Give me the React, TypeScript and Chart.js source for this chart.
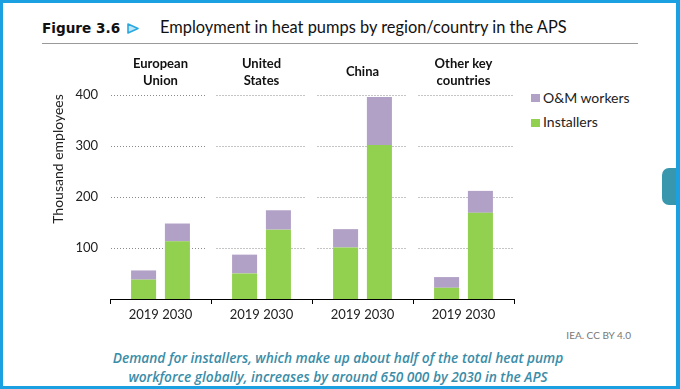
import React, { useEffect, useRef } from "react";
import { Chart, registerables } from "chart.js";

Chart.register(...registerables);

const groupLabels: string[][] = [["European", "Union"], ["United", "States"], ["China"], ["Other key", "countries"]];
const yearLabels: string[] = ["2019 2030", "2019 2030", "2019 2030", "2019 2030"];
const installers2019: number[] = [38, 50, 101, 22];
const om2019: number[] = [18, 37, 36, 21];
const installers2030: number[] = [113, 136, 302, 169];
const om2030: number[] = [35, 38, 94, 43];
const yTicks: number[] = [0, 100, 200, 300, 400];

const GREEN = "#92D050";
const PURPLE = "#B2A1C7";
const FONT = "Lato, 'Noto Sans', sans-serif";

const dottedGrid = {
  id: "dottedGrid",
  beforeDatasetsDraw(chart: any) {
    const { ctx, scales } = chart;
    const x = scales.x;
    const y = scales.y;
    const n = yearLabels.length;
    const w = (x.right - x.left) / n;
    ctx.save();
    ctx.strokeStyle = "#8a8a8a";
    ctx.lineWidth = 1;
    ctx.setLineDash([1, 2]);
    for (const v of yTicks) {
      if (v === 0) continue;
      const py = Math.round(y.getPixelForValue(v)) + 0.5;
      for (let i = 0; i < n; i++) {
        const c = x.getPixelForValue(i);
        const l = c - w / 2 + (i === 0 ? 1 : 5.5);
        const r = c + w / 2 - (i === n - 1 ? 0 : 5.5);
        ctx.beginPath();
        ctx.moveTo(l, py);
        ctx.lineTo(r, py);
        ctx.stroke();
      }
    }
    ctx.restore();
  },
};

export default function App() {
  const ref = useRef<HTMLCanvasElement | null>(null);

  useEffect(() => {
    if (!ref.current) return;
    const chart = new Chart(ref.current, {
      type: "bar",
      data: {
        labels: yearLabels,
        datasets: [
          { label: "Installers", data: installers2019, stack: "s2019", backgroundColor: GREEN, xAxisID: "x" },
          { label: "O&M workers", data: om2019, stack: "s2019", backgroundColor: PURPLE, xAxisID: "x" },
          { label: "Installers", data: installers2030, stack: "s2030", backgroundColor: GREEN, xAxisID: "x" },
          { label: "O&M workers", data: om2030, stack: "s2030", backgroundColor: PURPLE, xAxisID: "x" },
        ],
      },
      options: {
        responsive: false,
        animation: false,
        devicePixelRatio: 1,
        categoryPercentage: 0.67,
        barPercentage: 0.74,
        layout: { padding: { left: 0, right: 16, top: 0, bottom: 0 } },
        plugins: {
          legend: { display: false },
          tooltip: { enabled: false },
        },
        scales: {
          x: {
            type: "category",
            stacked: true,
            offset: true,
            grid: {
              display: true,
              drawOnChartArea: false,
              drawTicks: true,
              tickLength: 5,
              offset: true,
              color: "#000",
            },
            border: { display: true, color: "#000", width: 1 },
            ticks: { font: { family: FONT, size: 13 }, color: "#222", padding: 3, maxRotation: 0 },
            afterFit: (s: any) => {
              s.height = 31;
            },
          },
          x2: {
            type: "category",
            position: "top",
            labels: groupLabels as any,
            offset: true,
            grid: { display: false, drawTicks: false, tickLength: 0 },
            border: { display: false },
            ticks: {
              font: { family: FONT, size: 13, weight: "bold", lineHeight: 1.35 },
              color: "#111",
              padding: 14,
              maxRotation: 0,
              crossAlign: "center",
            },
            afterFit: (s: any) => {
              s.height = 47;
            },
          },
          y: {
            stacked: true,
            min: 0,
            max: 400,
            ticks: {
              stepSize: 100,
              font: { family: FONT, size: 13 },
              color: "#222",
              padding: 12,
              callback: (v: any) => (v === 0 ? "" : String(v)),
            },
            grid: { display: false, drawTicks: false },
            border: { display: false },
            afterFit: (s: any) => {
              s.width = 70;
            },
          },
        },
      },
      plugins: [dottedGrid],
    } as any);
    return () => chart.destroy();
  }, []);

  return (
    <div
      style={{
        position: "absolute",
        left: 0,
        top: 0,
        width: 680,
        height: 389,
        background: "#fff",
        overflow: "hidden",
        fontFamily: FONT,
      }}
    >
      <div style={{ position: "absolute", left: 42, top: 17, lineHeight: "22px", fontFamily: "'DejaVu Sans', sans-serif", fontWeight: 700, fontSize: 13.6, color: "#111", whiteSpace: "nowrap" }}>
        Figure 3.6
      </div>
      <svg width={12} height={11} style={{ position: "absolute", left: 127, top: 23 }}>
        <polygon points="1,1 11,5.5 1,10" fill="#BFE6F7" stroke="#2AA8E0" strokeWidth={1.6} strokeLinejoin="round" />
      </svg>
      <div style={{ position: "absolute", left: 160, top: 17, lineHeight: "20px", fontFamily: FONT, fontSize: 16.4, color: "#111", whiteSpace: "nowrap" }}>
        Employment in heat pumps by region/country in the APS
      </div>
      <div style={{ position: "absolute", left: 42, top: 43, width: 596, height: 1, background: "#9a9a9a" }} />

      <canvas ref={ref} width={490} height={282} style={{ position: "absolute", left: 40, top: 48 }} />

      <div
        style={{
          position: "absolute",
          left: -12,
          top: 150,
          width: 140,
          height: 18,
          lineHeight: "18px",
          textAlign: "center",
          transform: "rotate(-90deg)",
          fontSize: 14,
          color: "#222",
          whiteSpace: "nowrap",
        }}
      >
        Thousand employees
      </div>

      <div style={{ position: "absolute", left: 531, top: 94, width: 9, height: 8, background: PURPLE }} />
      <div style={{ position: "absolute", left: 543, top: 89, lineHeight: "18px", fontSize: 14, color: "#222", whiteSpace: "nowrap" }}>O&amp;M workers</div>
      <div style={{ position: "absolute", left: 531, top: 119, width: 9, height: 8, background: GREEN }} />
      <div style={{ position: "absolute", left: 543, top: 113, lineHeight: "18px", fontSize: 14, color: "#222", whiteSpace: "nowrap" }}>Installers</div>

      <div style={{ position: "absolute", right: 49, top: 328, lineHeight: "14px", fontSize: 10, color: "#777", whiteSpace: "nowrap" }}>IEA. CC BY 4.0</div>

      <div
        style={{
          position: "absolute",
          left: 0,
          width: 676,
          top: 348,
          lineHeight: "19px",
          textAlign: "center",
          fontFamily: "'Open Sans', sans-serif",
          fontStyle: "italic",
          fontWeight: 600,
          fontSize: 13.7,
          color: "#3A8DA8",
          whiteSpace: "nowrap",
        }}
      >
        Demand for installers, which make up about half of the total heat pump
        <br />
        workforce globally, increases by around 650 000 by 2030 in the APS
      </div>

      <div style={{ position: "absolute", left: 662, top: 168, width: 18, height: 37, background: "#3896AD", borderRadius: "7px 0 0 7px" }} />
      <div
        style={{
          position: "absolute",
          left: 0,
          top: 0,
          width: 680,
          height: 389,
          boxSizing: "border-box",
          borderStyle: "solid",
          borderColor: "#1BA1E2",
          borderWidth: "3px 4px 3px 3px",
          pointerEvents: "none",
        }}
      />
    </div>
  );
}
